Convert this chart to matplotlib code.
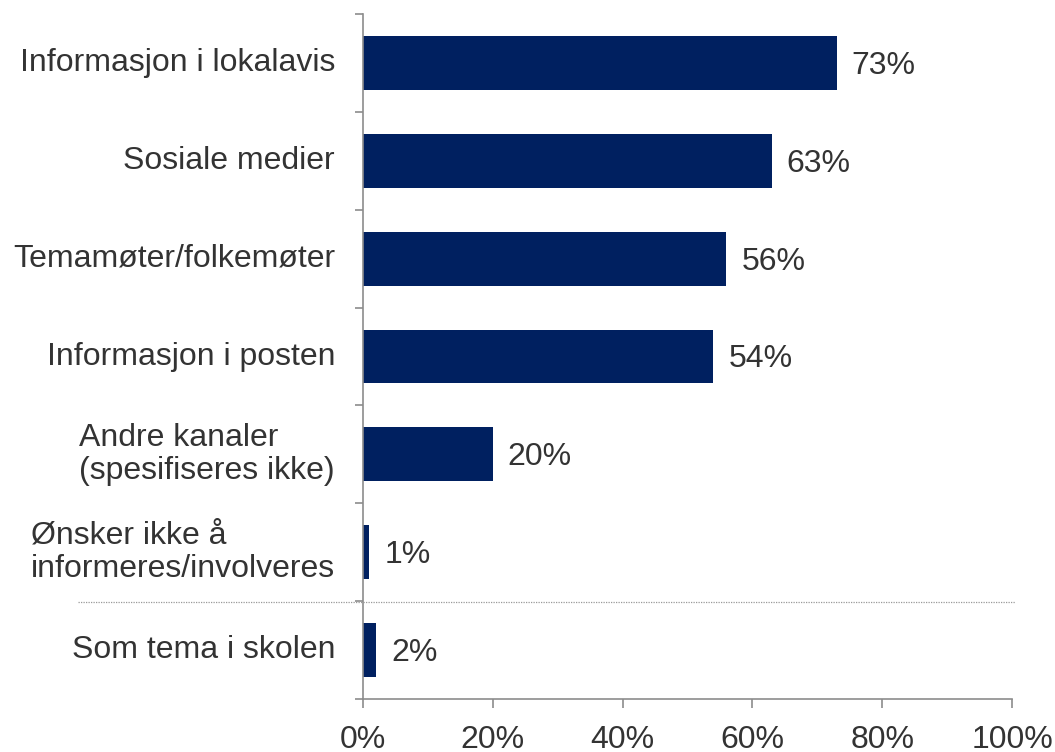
import matplotlib
matplotlib.use('Agg')
import matplotlib.pyplot as plt
from matplotlib.lines import Line2D
from matplotlib.ticker import FixedLocator, PercentFormatter

# ── Data ──────────────────────────────────────────────────────────────────────
categories = [
    'Informasjon i lokalavis',
    'Sosiale medier',
    'Temamøter/folkemøter',
    'Informasjon i posten',
    'Andre kanaler\n(spesifiseres ikke)',
    'Ønsker ikke å\ninformeres/involveres',
    'Som tema i skolen',
]
values = [73, 63, 56, 54, 20, 1, 2]
xticks = [0, 20, 40, 60, 80, 100]

BAR_COL = '#002060'
TXT_COL = '#333333'
AX_COL = '#8c8c8c'
FS = 23

plt.rcParams['font.family'] = ['Liberation Sans', 'DejaVu Sans']

fig = plt.figure(figsize=(10.55, 7.52), dpi=100)
ax = fig.add_axes([363 / 1055, 1 - 699 / 752, (1012 - 363) / 1055, (699 - 14) / 752])

y = list(range(len(categories)))
ax.barh(y, values, height=0.55, color=BAR_COL, zorder=2)

for yi, v in zip(y, values):
    ax.text(v + 2.3, yi + 0.03, f'{v}%', ha='left', va='center', fontsize=FS, color=TXT_COL)

ax.set_xlim(0, 100)
ax.set_ylim(len(categories) - 0.5, -0.5)

# category labels (right-aligned block, left-aligned lines)
ax.set_yticks(y)
ax.set_yticklabels([])
ax.tick_params(axis='y', which='major', length=0)
for yi, lab in zip(y, categories):
    ax.text(-4.3, yi, lab, ha='right', va='center', multialignment='left',
            fontsize=FS, color=TXT_COL, linespacing=1.12)

# tick marks at category boundaries
ax.yaxis.set_minor_locator(FixedLocator([i - 0.5 for i in range(len(categories) + 1)]))
ax.tick_params(axis='y', which='minor', length=6, width=1.2, color=AX_COL, direction='out')

ax.set_xticks(xticks)
ax.xaxis.set_major_formatter(PercentFormatter(decimals=0))
ax.tick_params(axis='x', length=6.5, width=1.2, color=AX_COL, labelsize=FS,
               labelcolor=TXT_COL, pad=12)

for s in ['top', 'right']:
    ax.spines[s].set_visible(False)
for s in ['left', 'bottom']:
    ax.spines[s].set_color(AX_COL)
    ax.spines[s].set_linewidth(1.2)

# dotted separator line
ysep = 1 - 602 / 752
fig.add_artist(Line2D([78 / 1055, 1015 / 1055], [ysep, ysep], transform=fig.transFigure,
                      color='#999999', lw=0.9, ls=(0, (1, 1))))

fig.savefig('out.png', dpi=100)
